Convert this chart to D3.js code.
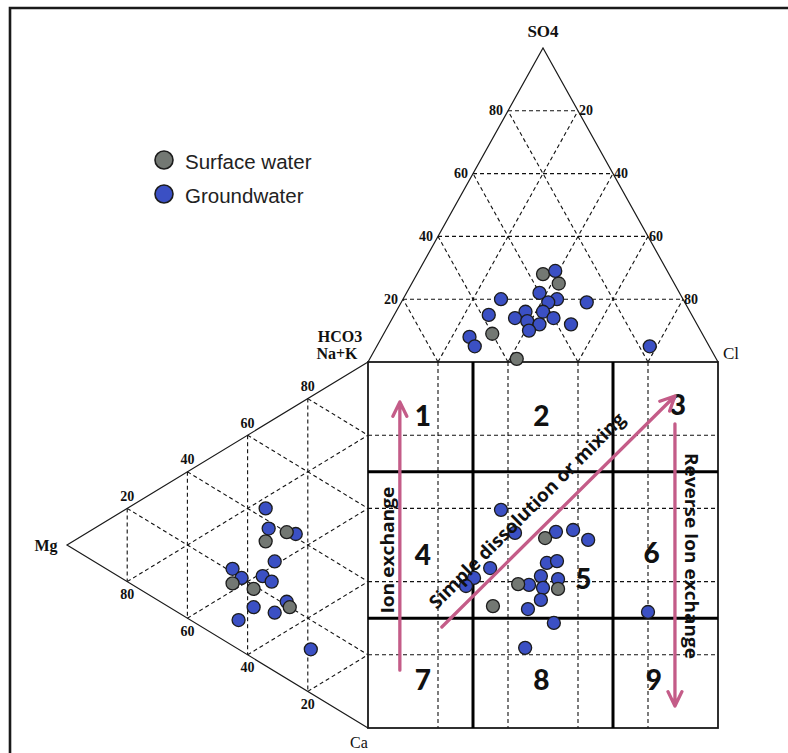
<!DOCTYPE html>
<html><head><meta charset="utf-8">
<script src="https://cdn.jsdelivr.net/npm/d3@7"></script>
<style>body{margin:0;background:#fff}svg{display:block}</style>
</head><body>
<svg id="chart" width="788" height="753"></svg>
<script>
// ---------- data ----------
const tickValues = [20, 40, 60, 80];
const zoneBreaks = [30, 70];
const zoneNumbers = ["1", "2", "3", "4", "5", "6", "7", "8", "9"];
const seriesNames = ["Surface water", "Groundwater"];

// anion triangle samples: [SO4 %, Cl %] (HCO3 is the remainder)
const anionSurface = [[28, 36], [25, 42], [9, 31], [1, 42]];
const anionGround = [[29, 39], [22, 38], [20, 44], [19, 42], [20, 28], [15, 27], [16, 37], [14, 35],
  [13, 39], [16, 42], [14, 46], [12, 43], [10, 41], [12, 52], [19, 53], [8, 25], [5, 28], [5, 78]];

// cation triangle samples: [Mg %, Ca %] (Na+K is the remainder)
const cationSurface = [[34, 32], [27, 33], [45, 38], [38, 43], [26, 54]];
const cationGround = [[34, 23], [33, 29], [24, 35], [31, 39], [45, 34], [42, 38], [35, 41], [32, 44],
  [27, 52], [38, 48], [31, 53], [43, 49], [19, 69]];

// central square samples: [x %, y % measured from the top edge]
const squareSurface = [[50.6, 48.1], [42.9, 60.7], [54.3, 62.0], [35.7, 66.7]];
const squareGround = [[38.0, 40.4], [42.0, 46.7], [53.7, 46.4], [58.6, 45.9], [62.9, 48.6], [51.1, 54.9],
  [54.0, 54.4], [34.9, 56.3], [30.3, 59.0], [28.0, 61.2], [46.0, 60.9], [49.4, 58.5], [50.0, 61.7],
  [54.3, 59.3], [49.4, 65.0], [45.7, 67.5], [53.1, 71.3], [44.9, 78.1], [80.0, 68.3]];

// ---------- layout ----------
const svg = d3.select("#chart");
const sx = d3.scaleLinear().domain([0, 100]).range([368, 718]);
const sy = d3.scaleLinear().domain([0, 100]).range([362, 728]);
const apexY = 48;      // SO4 apex
const mgX = 67;        // Mg vertex

const colors = { surface: "#737873", ground: "#3b50c4", arrow: "#c45c88", ink: "#111" };

// ternary vertices
const vHCO3 = [sx(0), sy(0)], vCl = [sx(100), sy(0)], vSO4 = [sx(50), apexY];
const vNaK = [sx(0), sy(0)], vCa = [sx(0), sy(100)], vMg = [mgX, sy(50)];

function mix(vA, vB, vC, a, b) {
  const c = 1 - a - b;
  return [vA[0] * a + vB[0] * b + vC[0] * c, vA[1] * a + vB[1] * b + vC[1] * c];
}
// anion point from SO4 %, Cl %
const anionXY = (so4, cl) => mix(vSO4, vCl, vHCO3, so4 / 100, cl / 100);
// cation point from Mg %, Ca %
const cationXY = (mg, ca) => mix(vMg, vCa, vNaK, mg / 100, ca / 100);
const squareXY = (x, y) => [sx(x), sy(y)];

const line = d3.line();

// ---------- frame ----------
svg.append("path").attr("d", "M10,753 L10,8 L788,8").attr("fill", "none")
  .attr("stroke", "#1a1a1a").attr("stroke-width", 2.6);

const gGrid = svg.append("g").attr("fill", "none").attr("stroke", colors.ink)
  .attr("stroke-width", 1.1).attr("stroke-dasharray", "4,3");

// anion triangle grid
tickValues.forEach(t => {
  gGrid.append("path").attr("d", line([anionXY(t, 0), anionXY(t, 100 - t)]));
  gGrid.append("path").attr("d", line([anionXY(0, t), anionXY(100 - t, t)]));
  gGrid.append("path").attr("d", line([anionXY(0, 100 - t), anionXY(100 - t, 0)]));
});
// cation triangle grid
tickValues.forEach(t => {
  gGrid.append("path").attr("d", line([cationXY(t, 0), cationXY(t, 100 - t)]));
  gGrid.append("path").attr("d", line([cationXY(100 - t, t), cationXY(0, t)]));
  gGrid.append("path").attr("d", line([cationXY(100 - t, 0), cationXY(0, 100 - t)]));
});
// square grid
tickValues.forEach(t => {
  gGrid.append("path").attr("d", line([squareXY(t, 0), squareXY(t, 100)]));
  gGrid.append("path").attr("d", line([squareXY(0, t), squareXY(100, t)]));
});

// outlines
const gOut = svg.append("g").attr("fill", "none").attr("stroke", "#1a1a1a");
gOut.append("path").attr("d", line([vHCO3, vSO4, vCl])).attr("stroke-width", 1.2);
gOut.append("path").attr("d", line([vNaK, vMg, vCa])).attr("stroke-width", 1.2);
gOut.append("rect").attr("x", sx(0)).attr("y", sy(0))
  .attr("width", sx(100) - sx(0)).attr("height", sy(100) - sy(0)).attr("stroke-width", 1.8);

// zone boundaries
const gZone = svg.append("g").attr("stroke", "#000").attr("stroke-width", 3);
zoneBreaks.forEach(b => {
  gZone.append("path").attr("d", line([squareXY(b, 0), squareXY(b, 100)]));
  gZone.append("path").attr("d", line([squareXY(0, b), squareXY(100, b)]));
});

// ---------- tick labels ----------
const tickFont = { "font-family": "Liberation Serif", "font-size": 14, "font-weight": "bold" };
function label(g, x, y, txt, anchor, attrs) {
  const t = g.append("text").attr("x", x).attr("y", y).attr("text-anchor", anchor)
    .attr("dominant-baseline", "central").attr("fill", "#111").text(txt);
  Object.entries(attrs).forEach(([k, v]) => t.attr(k, v));
  return t;
}
const gTicks = svg.append("g");
tickValues.forEach(t => {
  const pl = anionXY(t, 0);
  label(gTicks, pl[0] - 5, pl[1], t, "end", tickFont);
  const pr = anionXY(t, 100 - t);
  label(gTicks, pr[0] + 1, pr[1], 100 - t, "start", tickFont);
  const pt = cationXY(100 - t, 0);
  label(gTicks, pt[0], pt[1] - 12, t, "middle", tickFont);
  const pb = cationXY(t, 100 - t);
  label(gTicks, pb[0], pb[1] + 13, t, "middle", tickFont);
});

// ---------- axis names ----------
const boldSerif = { "font-family": "Liberation Serif", "font-size": 16, "font-weight": "bold" };
const plainSerif = { "font-family": "Liberation Serif", "font-size": 17 };
label(svg, vSO4[0], 31, "SO4", "middle", Object.assign({}, boldSerif, { "font-size": 17 }));
label(svg, 731, 353, "Cl", "middle", plainSerif);
label(svg, 340, 336, "HCO3", "middle", boldSerif);
label(svg, 337, 353, "Na+K", "middle", boldSerif);
label(svg, 46, 545, "Mg", "middle", boldSerif);
label(svg, 359, 742, "Ca", "middle", Object.assign({}, plainSerif, { "font-size": 16 }));

// ---------- samples ----------
function drawPoints(pts, toXY, fill, r) {
  svg.append("g").selectAll("circle").data(pts).join("circle")
    .attr("cx", d => toXY(d[0], d[1])[0]).attr("cy", d => toXY(d[0], d[1])[1])
    .attr("r", r).attr("fill", fill).attr("stroke", "#1c1c1c").attr("stroke-width", 1.3);
}
drawPoints(anionSurface, anionXY, colors.surface, 6.5);
drawPoints(anionGround, anionXY, colors.ground, 6.5);
drawPoints(cationGround, cationXY, colors.ground, 6.5);
drawPoints(cationSurface, cationXY, colors.surface, 6.5);
drawPoints(squareGround, squareXY, colors.ground, 6.5);
drawPoints(squareSurface, squareXY, colors.surface, 6.5);

// ---------- zone numbers ----------
const zoneCentre = [15.7, 49.5, 88.5];
const zoneRow = [14.5, 52.5, 86.5];
const zoneShift = { "3": [0, -3], "5": [61.5, 59], "6": [81, 52], "9": [81.7, 86.5] };
const zoneFont = { "font-family": "Lato", "font-size": 28, "font-weight": "900" };
zoneNumbers.forEach((z, i) => {
  let px = zoneCentre[i % 3], py = zoneRow[Math.floor(i / 3)];
  if (z === "3") py += zoneShift[z][1];
  else if (zoneShift[z]) { px = zoneShift[z][0]; py = zoneShift[z][1]; }
  label(svg, sx(px), sy(py), z, "middle", zoneFont);
});

// ---------- process arrows ----------
function arrow(p0, p1) {
  const [x0, y0] = squareXY(...p0), [x1, y1] = squareXY(...p1);
  const a = Math.atan2(y1 - y0, x1 - x0), L = 16, W = 0.45;
  const h1 = [x1 - L * Math.cos(a - W), y1 - L * Math.sin(a - W)];
  const h2 = [x1 - L * Math.cos(a + W), y1 - L * Math.sin(a + W)];
  svg.append("path").attr("d", line([[x0, y0], [x1, y1]]) + "M" + h1 + "L" + [x1, y1] + "L" + h2)
    .attr("fill", "none").attr("stroke", colors.arrow).attr("stroke-width", 3.3)
    .attr("stroke-linecap", "round").attr("stroke-linejoin", "round");
}
arrow([9.1, 84.2], [9.1, 10.9]);
arrow([21.1, 72.4], [87.7, 9.3]);
arrow([87.7, 16.9], [87.7, 94.0]);

const noteFont = { "font-family": "Open Sans", "font-size": 18.5, "font-weight": "bold" };
function note(pos, rot, txt, len) {
  const [x, y] = squareXY(...pos);
  label(svg, 0, 0, txt, "middle", noteFont)
    .attr("textLength", len).attr("lengthAdjust", "spacingAndGlyphs")
    .attr("transform", `translate(${x},${y}) rotate(${rot})`);
}
note([5.4, 51.4], -90, "Ion exchange", 127);
note([45.2, 40.4], -45, "Simple dissolution or mixing", 268);
note([92.6, 53], 90, "Reverse Ion exchange", 206);

// ---------- legend ----------
const legend = svg.append("g");
[[colors.surface, 160], [colors.ground, 194]].forEach(([c, y], i) => {
  legend.append("circle").attr("cx", 164).attr("cy", y).attr("r", 9)
    .attr("fill", c).attr("stroke", "#1c1c1c").attr("stroke-width", 1.6);
  label(legend, 185, y + 1, seriesNames[i], "start",
    { "font-family": "Liberation Sans", "font-size": 20.5 }).attr("fill", "#222");
});
</script>
</body></html>
